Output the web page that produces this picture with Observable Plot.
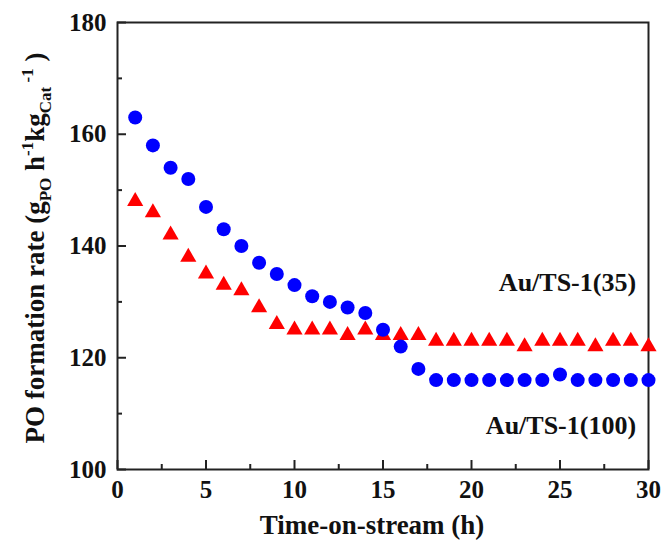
<!DOCTYPE html>
<html><head><meta charset="utf-8">
<script src="https://cdn.jsdelivr.net/npm/d3@7"></script>
<script src="https://cdn.jsdelivr.net/npm/@observablehq/plot@0.6"></script>
<style>html,body{margin:0;padding:0;background:#fff}</style>
</head><body><div id="chart"></div>
<script>
const hours = [1,2,3,4,5,6,7,8,9,10,11,12,13,14,15,16,17,18,19,20,21,22,23,24,25,26,27,28,29,30];
const rateAu100 = [163,158,154,152,147,143,140,137,135,133,131,130,129,128,125,122,118,116,116,116,116,116,116,116,117,116,116,116,116,116];
const rateAu35 = [148,146,142,138,135,133,132,129,126,125,125,125,124,125,124,124,124,123,123,123,123,123,122,123,123,123,122,123,123,122];
const xTicks = [0,5,10,15,20,25,30];
const xMinorTicks = [2.5,7.5,12.5,17.5,22.5,27.5];
const yTicks = [100,120,140,160,180];
const yMinorTicks = [110,130,150,170];
const seriesNames = ["Au/TS-1(35)","Au/TS-1(100)"];

const d100 = hours.map((h,i)=>({h, v: rateAu100[i]}));
const d35 = hours.map((h,i)=>({h, v: rateAu35[i]}));

const W = 665, H = 550, mL = 117, mR = 17, mT = 22, mB = 81;
const innerW = W - mL - mR, innerH = H - mT - mB;
const font = "'Liberation Serif','Times New Roman',serif";
const chart = Plot.plot({
  width: W, height: H,
  marginLeft: mL, marginRight: mR, marginTop: mT, marginBottom: mB,
  style: {fontFamily: font, fontWeight: "bold", fontSize: "25px", color: "#111", background: "#fff"},
  x: {domain: [0,30]},
  y: {domain: [100,180]},
  marks: [
    Plot.tickX(xTicks, {x: d => d, insetTop: innerH - 9, stroke: "#222", strokeWidth: 2}),
    Plot.tickX(xMinorTicks, {x: d => d, insetTop: innerH - 5, stroke: "#222", strokeWidth: 2}),
    Plot.tickY(yTicks, {y: d => d, insetRight: innerW - 9, stroke: "#222", strokeWidth: 2}),
    Plot.tickY(yMinorTicks, {y: d => d, insetRight: innerW - 5, stroke: "#222", strokeWidth: 2}),
    Plot.axisX(xTicks, {tickSize: 0, tickPadding: 11, label: null}),
    Plot.axisY(yTicks, {tickSize: 0, tickPadding: 11, label: null}),
    Plot.frame({stroke: "#222", strokeWidth: 2}),
    Plot.dot(d35, {x: "h", y: "v", r: 6, symbol: "triangle", fill: "#ff0000"}),
    Plot.dot(d100, {x: "h", y: "v", r: 7, symbol: "circle", fill: "#0000ff"}),
    Plot.text([seriesNames[0]], {x: 29.3, y: 133.5, text: d => d, textAnchor: "end", fontSize: 26, fontWeight: "bold", fill: "#111"}),
    Plot.text([seriesNames[1]], {x: 29.3, y: 107.8, text: d => d, textAnchor: "end", fontSize: 26, fontWeight: "bold", fill: "#111"})
  ]
});
document.getElementById("chart").appendChild(chart);

const svg = d3.select(chart);
svg.append("text")
  .attr("x", 372).attr("y", 534)
  .attr("text-anchor", "middle")
  .attr("font-family", font).attr("font-weight", "bold").attr("font-size", 27).attr("fill", "#111")
  .text("Time-on-stream (h)");

const yl = svg.append("text")
  .attr("transform", "translate(44,248) rotate(-90)")
  .attr("text-anchor", "middle")
  .attr("font-family", font).attr("font-weight", "bold").attr("font-size", 27).attr("fill", "#111");
yl.append("tspan").text("PO formation rate (g");
yl.append("tspan").attr("font-size", 17).attr("dy", 7).text("PO");
yl.append("tspan").attr("dy", -7).text(" h");
yl.append("tspan").attr("font-size", 17).attr("dy", -11).text("-1");
yl.append("tspan").attr("dy", 11).text("kg");
yl.append("tspan").attr("font-size", 17).attr("dy", 7).text("Cat");
yl.append("tspan").attr("font-size", 17).attr("dy", -18).text(" -1");
yl.append("tspan").attr("dy", 11).text(" )");
</script>
</body></html>
